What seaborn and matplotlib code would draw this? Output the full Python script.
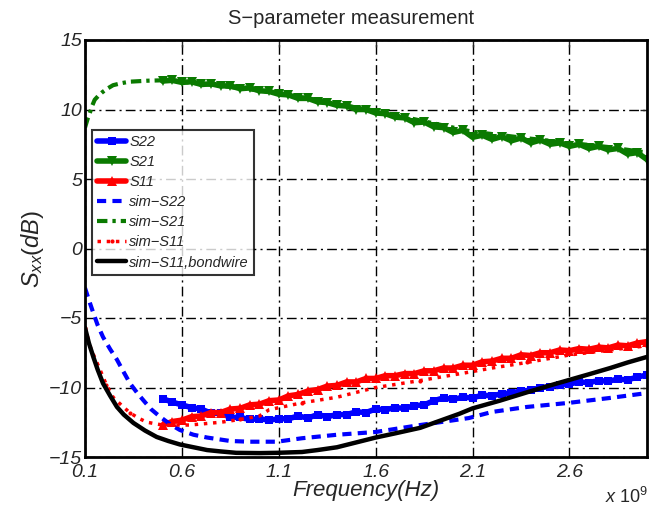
import numpy as np
import pandas as pd
import matplotlib
matplotlib.use('Agg')
import matplotlib.pyplot as plt
import seaborn as sns

# =============================================================================
# Data (frequency in GHz, S-parameters in dB)
# =============================================================================

# measured curves, sampled every 0.05 GHz from 0.5 to 3.0
freq_meas = np.round(np.arange(0.5, 3.0001, 0.05), 2)

s21_meas = [12.05, 12.1, 11.95, 12.0, 11.8, 11.85, 11.7, 11.7, 11.5, 11.55,
            11.35, 11.3, 11.1, 11.05, 10.8, 10.8, 10.55, 10.5, 10.3, 10.25,
            10.0, 10.0, 9.75, 9.7, 9.45, 9.4, 9.05, 9.1, 8.75, 8.7,
            8.35, 8.5, 8.0, 8.15, 7.85, 8.05, 7.75, 7.95, 7.6, 7.8,
            7.5, 7.6, 7.35, 7.5, 7.2, 7.35, 7.1, 7.2, 6.8, 6.9, 6.4]

s22_meas = [-10.8, -11.05, -11.25, -11.45, -11.55, -11.85, -11.85, -12.15, -12.15, -12.3,
            -12.25, -12.35, -12.25, -12.25, -12.05, -12.2, -11.95, -12.1, -11.95, -11.95,
            -11.75, -11.8, -11.55, -11.6, -11.45, -11.5, -11.3, -11.25, -10.95, -10.75,
            -10.85, -10.7, -10.75, -10.55, -10.6, -10.45, -10.4, -10.25, -10.2, -10.0,
            -9.95, -9.8, -9.75, -9.6, -9.65, -9.5, -9.55, -9.4, -9.45, -9.25, -9.1]

s11_meas = [-12.7, -12.45, -12.35, -12.1, -12.05, -11.8, -11.8, -11.55, -11.5, -11.25,
            -11.2, -10.95, -10.9, -10.6, -10.5, -10.25, -10.15, -9.9, -9.85, -9.6,
            -9.6, -9.35, -9.35, -9.15, -9.15, -9.0, -9.0, -8.8, -8.8, -8.6,
            -8.6, -8.4, -8.4, -8.15, -8.1, -7.9, -7.9, -7.65, -7.7, -7.5,
            -7.5, -7.3, -7.35, -7.2, -7.25, -7.1, -7.15, -6.95, -7.0, -6.8, -6.7]

# simulated curves
freq_sim_s22 = [0.1, 0.12, 0.143, 0.165, 0.193, 0.23, 0.265, 0.3, 0.332, 0.37, 0.40,
                0.44, 0.487, 0.54, 0.59, 0.66, 0.73, 0.85, 0.95, 1.09, 1.22, 1.4,
                1.6, 1.83, 2.08, 2.2, 2.38, 2.6, 2.81, 3.0]
sim_s22 = [-2.84, -3.7, -4.64, -5.5, -6.37, -7.25, -8.0, -8.9, -9.7, -10.4, -10.9,
           -11.55, -12.1, -12.65, -13.06, -13.4, -13.6, -13.85, -13.9, -13.9, -13.65, -13.4,
           -13.2, -12.7, -12.2, -11.76, -11.4, -11.1, -10.75, -10.4]

freq_sim_s21 = [0.1, 0.113, 0.126, 0.138, 0.15, 0.17, 0.19, 0.215, 0.245, 0.29, 0.33,
                0.42, 0.5, 0.6, 0.8, 1.1, 1.4, 1.6, 1.9, 2.1, 2.4, 2.6, 2.8, 3.0]
sim_s21 = [8.7, 9.3, 9.8, 10.3, 10.7, 11.0, 11.25, 11.5, 11.75, 11.9, 12.0,
           12.07, 12.1, 12.0, 11.7, 11.2, 10.4, 9.9, 9.0, 8.4, 7.9, 7.6, 7.3, 6.9]

freq_sim_s11 = [0.1, 0.13, 0.177, 0.21, 0.245, 0.29, 0.33, 0.375, 0.42, 0.5, 0.64,
                0.8, 0.9, 1.0, 1.05, 1.22, 1.4, 1.6, 1.83, 2.08, 2.2, 2.38, 2.6, 2.81, 3.0]
sim_s11 = [-5.7, -7.2, -8.7, -9.8, -10.7, -11.3, -11.8, -12.2, -12.5, -12.7, -12.7,
           -12.5, -12.3, -12.05, -11.6, -11.1, -10.7, -10.0, -9.5, -8.9, -8.6, -8.2,
           -7.66, -7.3, -7.0]

freq_bond = [0.1, 0.12, 0.143, 0.165, 0.193, 0.23, 0.265, 0.3, 0.35, 0.41, 0.47, 0.53,
             0.59, 0.66, 0.73, 0.8, 0.88, 1.0, 1.09, 1.22, 1.3, 1.4, 1.5, 1.6, 1.7,
             1.83, 1.93, 2.03, 2.1, 2.24, 2.38, 2.5, 2.6, 2.7, 2.81, 2.9, 3.0]
sim_s11_bond = [-5.7, -6.8, -7.8, -8.7, -9.7, -10.6, -11.4, -11.95, -12.55, -13.1, -13.56,
                -13.85, -14.1, -14.3, -14.5, -14.6, -14.7, -14.72, -14.7, -14.64, -14.5,
                -14.3, -13.95, -13.6, -13.3, -12.9, -12.4, -11.9, -11.5, -10.95, -10.35,
                -9.85, -9.45, -9.05, -8.6, -8.2, -7.8]

x_ticks = [0.1, 0.6, 1.1, 1.6, 2.1, 2.6]
y_ticks = [-15, -10, -5, 0, 5, 10, 15]

# =============================================================================
# Style
# =============================================================================

sns.set_style('white')
plt.rcParams['font.family'] = ['Liberation Sans', 'DejaVu Sans']
plt.rcParams['mathtext.fontset'] = 'custom'
plt.rcParams['mathtext.it'] = 'Liberation Sans:italic'
plt.rcParams['mathtext.rm'] = 'Liberation Sans'

green = '#0a7a00'

fig = plt.figure(figsize=(6.5, 5.12), dpi=100)
ax = fig.add_axes([85/650, 55/512, 562/650, 417/512])

# measured
sns.lineplot(x=freq_meas, y=s22_meas, ax=ax, color='blue', lw=4, marker='s',
             markersize=6, markeredgewidth=0, label='S22', sort=False)
sns.lineplot(x=freq_meas, y=s21_meas, ax=ax, color=green, lw=4, marker='v',
             markersize=7, markeredgewidth=0, label='S21', sort=False)
sns.lineplot(x=freq_meas, y=s11_meas, ax=ax, color='red', lw=4, marker='^',
             markersize=7, markeredgewidth=0, label='S11', sort=False)

# simulated
sns.lineplot(x=freq_sim_s22, y=sim_s22, ax=ax, color='blue', lw=3,
             linestyle=(0, (2.2, 1.5)), label='sim\u2212S22', sort=False)
sns.lineplot(x=freq_sim_s21, y=sim_s21, ax=ax, color=green, lw=3,
             linestyle=(0, (2.5, 1.2, 0.8, 1.2)), label='sim\u2212S21', sort=False)
sns.lineplot(x=freq_sim_s11, y=sim_s11, ax=ax, color='red', lw=2.5, linestyle=':',
             marker='.', markersize=6, markeredgewidth=0, markevery=3,
             label='sim\u2212S11', sort=False)
sns.lineplot(x=freq_bond, y=sim_s11_bond, ax=ax, color='black', lw=3.2,
             label='sim\u2212S11,bondwire', sort=False)

ax.set_xlim(0.1, 3.0)
ax.set_ylim(-15, 15)
ax.set_xticks(x_ticks)
ax.set_yticks(y_ticks)
ax.set_xticklabels([f'{t:.1f}' for t in x_ticks], fontsize=14, fontstyle='italic')
ax.set_yticklabels([f'{t:d}'.replace('-', '\u2212') for t in y_ticks], fontsize=14,
                   fontstyle='italic')

ax.grid(True, color='black', lw=1.0, linestyle=(0, (7, 3, 1.5, 3)))
ax.tick_params(direction='in', length=5, width=1, top=True, right=True, pad=2)
ax.tick_params(axis='x', pad=5)
for s in ax.spines.values():
    s.set_linewidth(2)
    s.set_color('black')

ax.set_xlabel('Frequency(Hz)', fontsize=16, fontstyle='italic', labelpad=-1)
ax.set_ylabel(r'$\mathit{S_{xx}(dB)}$', fontsize=17, labelpad=2)
fig.text(351/650, 1 - 19/512, 'S\u2212parameter measurement', fontsize=14.5,
         ha='center', va='center')
fig.text(648/650, 5/512, r'$\mathit{x\ 10^{9}}$', fontsize=13, ha='right', va='bottom')

leg = ax.legend(loc='upper left', bbox_to_anchor=(0.0125, 0.785),
                handlelength=2.0, handletextpad=0.2, labelspacing=0.42,
                borderpad=0.35, borderaxespad=0, frameon=True, fancybox=False,
                prop={'style': 'italic', 'size': 10.5})
leg.get_frame().set_edgecolor('black')
leg.get_frame().set_linewidth(1.5)

fig.savefig('out.png', dpi=100)
